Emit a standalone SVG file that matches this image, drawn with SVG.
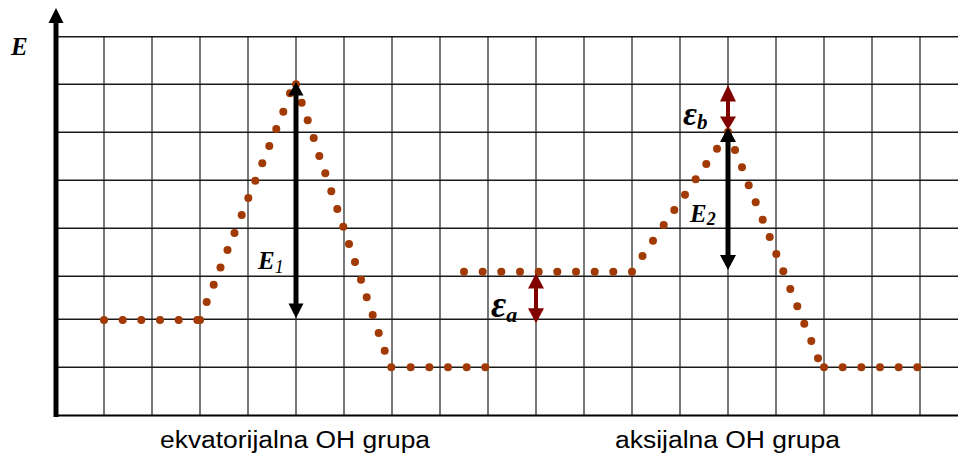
<svg xmlns="http://www.w3.org/2000/svg" width="958" height="456" viewBox="0 0 958 456">
<defs>
<style>
.h{stroke:#1a1a1a;stroke-width:1.5;fill:none}
.v{stroke:#7a7a7a;stroke-width:2;fill:none}
.d circle{fill:#a13a04;r:4px}
.blk{fill:#000}
.red{fill:#800000}
.lbl{font-family:"Liberation Serif","Times New Roman",serif;font-style:italic;font-weight:bold;fill:#000}
.cap{font-family:"Liberation Sans",Arial,sans-serif;font-size:23px;fill:#000}
</style>
</defs>
<rect width="958" height="456" fill="#fff"/>
<g id="grid">
<path class="v" d="M104 36.7V415M152 36.7V415M200 36.7V415M248 36.7V415M296 36.7V415M344 36.7V415M392 36.7V415M440 36.7V415M488 36.7V415M536 36.7V415M584 36.7V415M632 36.7V415M680 36.7V415M728 36.7V415M776 36.7V415M824 36.7V415M872 36.7V415M920 36.7V415"/>
<path class="h" d="M58 36.7H958M58 84.3H958M58 132.3H958M58 180.3H958M58 228.3H958M58 276.3H958M58 319.3H958M58 367.3H958"/>
<path d="M54 415.5H958" stroke="#000" stroke-width="2" fill="none"/>
</g>
<g id="axis">
<rect class="blk" x="53.5" y="20" width="5" height="397"/>
<polygon class="blk" points="56,8 63.5,23 48.5,23"/>
<text class="lbl" x="11" y="55" font-size="25">E</text>
</g>
<g id="curve" class="d">
<circle cx="104" cy="320" r="4"/><circle cx="122.7" cy="320" r="4"/><circle cx="141.3" cy="320" r="4"/><circle cx="160" cy="320" r="4"/><circle cx="178.7" cy="320" r="4"/><circle cx="197.3" cy="320" r="4"/><circle cx="200" cy="320" r="4"/>
<circle cx="206.7" cy="302" r="4"/><circle cx="213.7" cy="284.7" r="4"/><circle cx="220.5" cy="267.5" r="4"/><circle cx="227.5" cy="250" r="4"/><circle cx="234.5" cy="233" r="4"/><circle cx="241.7" cy="215" r="4"/><circle cx="248.3" cy="198" r="4"/><circle cx="255.3" cy="180.7" r="4"/><circle cx="262.3" cy="163.3" r="4"/><circle cx="269.3" cy="146" r="4"/><circle cx="276.3" cy="129" r="4"/><circle cx="283.3" cy="111.7" r="4"/><circle cx="290" cy="93.3" r="4"/><circle cx="296" cy="84.3" r="4"/>
<circle cx="301.7" cy="102.7" r="4"/><circle cx="307.7" cy="120.3" r="4"/><circle cx="313.7" cy="138" r="4"/><circle cx="319.3" cy="156" r="4"/><circle cx="325.3" cy="173.3" r="4"/><circle cx="331.3" cy="191.3" r="4"/><circle cx="337.3" cy="209" r="4"/><circle cx="343.3" cy="226.7" r="4"/><circle cx="349" cy="244" r="4"/><circle cx="355" cy="262" r="4"/><circle cx="361" cy="279.7" r="4"/><circle cx="366.7" cy="297.3" r="4"/><circle cx="372.7" cy="315" r="4"/><circle cx="378.7" cy="333" r="4"/><circle cx="384.7" cy="350.7" r="4"/><circle cx="391.3" cy="367.3" r="4"/>
<circle cx="410.7" cy="367.3" r="4"/><circle cx="429.3" cy="367.3" r="4"/><circle cx="448" cy="367.3" r="4"/><circle cx="466.7" cy="367.3" r="4"/><circle cx="485.3" cy="367.3" r="4"/>
<circle cx="464" cy="271.7" r="4"/><circle cx="482.7" cy="271.7" r="4"/><circle cx="501.3" cy="271.7" r="4"/><circle cx="520" cy="271.7" r="4"/><circle cx="538.7" cy="271.7" r="4"/><circle cx="557.3" cy="271.7" r="4"/><circle cx="576" cy="271.7" r="4"/><circle cx="594.7" cy="271.7" r="4"/><circle cx="613.3" cy="271.7" r="4"/><circle cx="632" cy="271.7" r="4"/>
<circle cx="642.5" cy="256" r="4"/><circle cx="653" cy="240.7" r="4"/><circle cx="663.7" cy="225" r="4"/><circle cx="674.3" cy="210" r="4"/><circle cx="685" cy="194.7" r="4"/><circle cx="695.7" cy="179.3" r="4"/><circle cx="706.3" cy="164" r="4"/><circle cx="717" cy="148.7" r="4"/><circle cx="728" cy="132" r="4"/>
<circle cx="735" cy="150" r="4"/><circle cx="742" cy="167.3" r="4"/><circle cx="748.7" cy="185.3" r="4"/><circle cx="755.7" cy="202.3" r="4"/><circle cx="762.7" cy="219.7" r="4"/><circle cx="769.7" cy="237" r="4"/><circle cx="776.3" cy="254" r="4"/><circle cx="783.3" cy="271.3" r="4"/><circle cx="790.3" cy="289" r="4"/><circle cx="797.3" cy="306.3" r="4"/><circle cx="804.3" cy="323.7" r="4"/><circle cx="811.3" cy="341" r="4"/><circle cx="818" cy="358.3" r="4"/><circle cx="824" cy="367.3" r="4"/>
<circle cx="842.7" cy="367.3" r="4"/><circle cx="861.3" cy="367.3" r="4"/><circle cx="880" cy="367.3" r="4"/><circle cx="898.7" cy="367.3" r="4"/><circle cx="917.3" cy="367.3" r="4"/>
</g>
<g id="arrow-E1">
<rect class="blk" x="293.5" y="94" width="5" height="211"/>
<polygon class="blk" points="296,81.7 303.5,95.5 288.5,95.5"/>
<polygon class="blk" points="296,318.3 303.5,303.5 288.5,303.5"/>
<text class="lbl" x="258" y="269" font-size="25">E<tspan font-size="18" font-weight="normal" dy="4">1</tspan></text>
</g>
<g id="arrow-E2">
<rect class="blk" x="725.5" y="140" width="5" height="117"/>
<polygon class="blk" points="728,127.3 736,142 720,142"/>
<polygon class="blk" points="728,270 736,255 720,255"/>
<text class="lbl" x="690" y="221.7" font-size="25">E<tspan font-size="18" dy="3">2</tspan></text>
</g>
<g id="arrow-eps-b">
<rect class="red" x="726" y="100" width="4" height="18"/>
<polygon class="red" points="728,85 736,101.5 720,101.5"/>
<polygon class="red" points="728,130 736,116.5 720,116.5"/>
<text class="lbl" x="683" y="125" font-size="34">ε<tspan font-size="21" dy="4">b</tspan></text>
</g>
<g id="arrow-eps-a">
<rect class="red" x="534" y="287" width="4" height="23"/>
<polygon class="red" points="536,273.3 544,288.5 528,288.5"/>
<polygon class="red" points="536,323.3 544,308.3 528,308.3"/>
<text class="lbl" x="491" y="316.7" font-size="37">ε<tspan font-size="22" dy="5">a</tspan></text>
</g>
<g id="captions">
<text class="cap" x="160" y="447.5" textLength="270" lengthAdjust="spacingAndGlyphs">ekvatorijalna OH grupa</text>
<text class="cap" x="615" y="447.5" textLength="225" lengthAdjust="spacingAndGlyphs">aksijalna OH grupa</text>
</g>
</svg>
